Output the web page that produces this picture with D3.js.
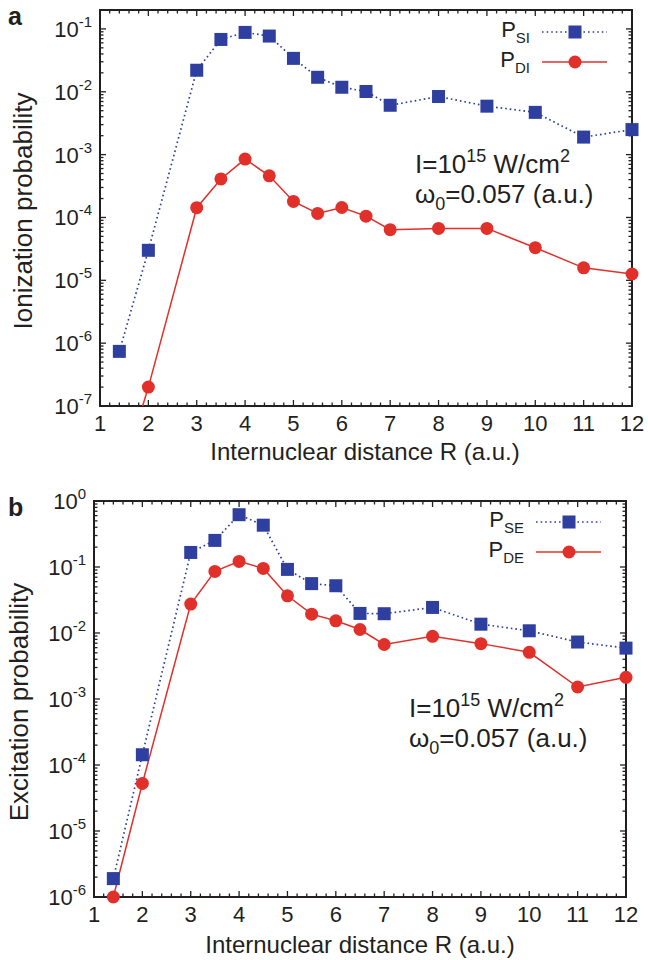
<!DOCTYPE html>
<html>
<head>
<meta charset="utf-8">
<script src="https://cdn.jsdelivr.net/npm/d3@7"></script>
<style>
body { margin: 0; background: #fff; }
text { font-family: "Liberation Sans", Arial, Helvetica, sans-serif; fill: #231f20; }
</style>
</head>
<body>
<svg id="chart" width="648" height="960"></svg>
<script>
// internuclear distance R (a.u.)
var R = [1.4, 2, 3, 3.5, 4, 4.5, 5, 5.5, 6, 6.5, 7, 8, 9, 10, 11, 12];

// panel a - ionization
var P_SI = [7.4e-7, 3.0e-5, 0.022, 0.068, 0.088, 0.077, 0.034, 0.017, 0.0118, 0.0101, 0.0061, 0.0084, 0.0059, 0.0047, 0.0019, 0.0025];
var P_DI = [6e-9, 2.0e-7, 1.43e-4, 4.1e-4, 8.5e-4, 4.6e-4, 1.8e-4, 1.16e-4, 1.44e-4, 1.05e-4, 6.4e-5, 6.7e-5, 6.7e-5, 3.3e-5, 1.58e-5, 1.26e-5];

// panel b - excitation
var P_SE = [1.9e-6, 1.43e-4, 0.166, 0.253, 0.62, 0.43, 0.092, 0.056, 0.052, 0.0198, 0.0196, 0.0244, 0.0136, 0.0108, 0.0073, 0.0059];
var P_DE = [1.0e-6, 5.25e-5, 0.0274, 0.0857, 0.1216, 0.095, 0.0366, 0.0193, 0.0153, 0.0113, 0.0067, 0.0089, 0.0069, 0.0051, 0.00152, 0.00213];

// ticks
var xTicks = [1, 2, 3, 4, 5, 6, 7, 8, 9, 10, 11, 12];
var yExpA = [-7, -6, -5, -4, -3, -2, -1];
var yExpB = [-6, -5, -4, -3, -2, -1, 0];

var blue = "#2e3f9f", red = "#e1302a";

var svg = d3.select("#chart");

function drawPanel(p) {
    var x = d3.scaleLinear().domain([1, 12]).range([p.left, p.right]);
    var y = d3.scaleLog().domain(p.ydom).range([p.bottom, p.top]);
    var g = svg.append("g");

    // clip for lines
    g.append("clipPath").attr("id", "clip" + p.id)
        .append("rect")
        .attr("x", p.left).attr("y", p.top)
        .attr("width", p.right - p.left).attr("height", p.bottom - p.top);

    // x ticks (major + minor), bottom and top, pointing in
    var xMinor = d3.range(10, 120, 2).map(function(d){ return d / 10; }).filter(function(d){ return d % 1 != 0; });
    var tk = g.append("g").attr("stroke", "#231f20").attr("stroke-width", 1.3);
    xTicks.forEach(function(d){
        tk.append("line").attr("x1", x(d)).attr("x2", x(d)).attr("y1", p.bottom).attr("y2", p.bottom - 6);
        tk.append("line").attr("x1", x(d)).attr("x2", x(d)).attr("y1", p.top).attr("y2", p.top + 6);
    });
    xMinor.forEach(function(d){
        tk.append("line").attr("x1", x(d)).attr("x2", x(d)).attr("y1", p.bottom).attr("y2", p.bottom - 3.5);
        tk.append("line").attr("x1", x(d)).attr("x2", x(d)).attr("y1", p.top).attr("y2", p.top + 3.5);
    });

    // y ticks (decades + minor 2..9), left and right
    var yMajor = p.yExp.map(function(e){ return Math.pow(10, e); });
    var yMinor = [];
    p.yExp.forEach(function(e){
        for (var m = 2; m <= 9; m++) {
            var v = m * Math.pow(10, e);
            if (v <= p.ydom[1]) yMinor.push(v);
        }
    });
    yMajor.forEach(function(d){
        tk.append("line").attr("x1", p.left).attr("x2", p.left + 6).attr("y1", y(d)).attr("y2", y(d));
        tk.append("line").attr("x1", p.right).attr("x2", p.right - 6).attr("y1", y(d)).attr("y2", y(d));
    });
    yMinor.forEach(function(d){
        tk.append("line").attr("x1", p.left).attr("x2", p.left + 3.5).attr("y1", y(d)).attr("y2", y(d));
        tk.append("line").attr("x1", p.right).attr("x2", p.right - 3.5).attr("y1", y(d)).attr("y2", y(d));
    });

    // frame
    g.append("rect")
        .attr("x", p.left).attr("y", p.top)
        .attr("width", p.right - p.left).attr("height", p.bottom - p.top)
        .attr("fill", "none").attr("stroke", "#231f20").attr("stroke-width", 2);

    // x tick labels
    g.selectAll(".xl").data(xTicks).enter().append("text")
        .attr("x", function(d){ return x(d); })
        .attr("y", p.bottom + 25)
        .attr("text-anchor", "middle")
        .style("font-size", "22px")
        .text(function(d){ return d; });

    // y tick labels 10^e
    var yl = g.selectAll(".yl").data(p.yExp).enter().append("text")
        .attr("x", p.left - 8)
        .attr("y", function(e){ return y(Math.pow(10, e)) + 8; })
        .attr("text-anchor", "end")
        .style("font-size", "22px");
    yl.append("tspan").text("10");
    yl.append("tspan").attr("dy", -10).style("font-size", "15px").text(function(e){ return e; });

    // axis titles
    g.append("text")
        .attr("x", (p.left + p.right) / 2 + p.xtitleDx)
        .attr("y", p.bottom + p.xtitleDy)
        .attr("text-anchor", "middle")
        .style("font-size", "24px")
        .text("Internuclear distance R (a.u.)");
    g.append("text")
        .attr("transform", "translate(" + p.ytitleX + "," + ((p.top + p.bottom) / 2 + 3) + ") rotate(-90)")
        .attr("text-anchor", "middle")
        .style("font-size", "26px")
        .text(p.ytitle);

    // panel letter
    g.append("text")
        .attr("x", 8).attr("y", p.top + 15)
        .style("font-size", "25px").style("font-weight", "bold")
        .text(p.letter);

    // series
    var line = d3.line()
        .x(function(d){ return x(d[0]); })
        .y(function(d){ return y(d[1]); });

    var s1 = R.map(function(r, i){ return [r, p.s1[i]]; });
    var s2 = R.map(function(r, i){ return [r, p.s2[i]]; });

    g.append("path").datum(s1)
        .attr("clip-path", "url(#clip" + p.id + ")")
        .attr("d", line)
        .attr("fill", "none").attr("stroke", blue)
        .attr("stroke-width", 1.7).attr("stroke-dasharray", "1.6,3");
    g.append("path").datum(s2)
        .attr("clip-path", "url(#clip" + p.id + ")")
        .attr("d", line)
        .attr("fill", "none").attr("stroke", red)
        .attr("stroke-width", 1.5);

    var inDom = function(d){ return d[1] >= p.ydom[0] * 0.999; };

    g.selectAll(".sq").data(s1.filter(inDom)).enter().append("rect")
        .attr("x", function(d){ return x(d[0]) - 6.5; })
        .attr("y", function(d){ return y(d[1]) - 6.5; })
        .attr("width", 13).attr("height", 13)
        .attr("fill", blue);
    g.selectAll(".ci").data(s2.filter(inDom)).enter().append("circle")
        .attr("cx", function(d){ return x(d[0]); })
        .attr("cy", function(d){ return y(d[1]); })
        .attr("r", 6.5)
        .attr("fill", red);

    // legend
    var lg = g.append("g");
    [[p.names[0], blue, "sq"], [p.names[1], red, "ci"]].forEach(function(e, i){
        var ly = p.legY + i * 30;
        var t = lg.append("text")
            .attr("x", p.legX).attr("y", ly + 5)
            .attr("text-anchor", "end")
            .style("font-size", "22px");
        t.append("tspan").text("P");
        t.append("tspan").attr("dy", 6).style("font-size", "15px").text(e[0]);
        lg.append("line")
            .attr("x1", p.legX + 12).attr("x2", p.legX + 77)
            .attr("y1", ly).attr("y2", ly)
            .attr("stroke", e[1])
            .attr("stroke-width", e[2] == "sq" ? 1.7 : 1.5)
            .attr("stroke-dasharray", e[2] == "sq" ? "1.6,3" : null);
        var mx = p.legX + 45;
        if (e[2] == "sq")
            lg.append("rect").attr("x", mx - 6.5).attr("y", ly - 6.5).attr("width", 13).attr("height", 13).attr("fill", e[1]);
        else
            lg.append("circle").attr("cx", mx).attr("cy", ly).attr("r", 6.5).attr("fill", e[1]);
    });

    // annotation
    var a1 = g.append("text").attr("x", p.annX).attr("y", p.annY).style("font-size", "26px");
    a1.append("tspan").text("I=10");
    a1.append("tspan").attr("dy", -11).style("font-size", "18px").text("15");
    a1.append("tspan").attr("dy", 11).text(" W/cm");
    a1.append("tspan").attr("dy", -11).style("font-size", "18px").text("2");
    var a2 = g.append("text").attr("x", p.annX).attr("y", p.annY + 30).style("font-size", "26px");
    a2.append("tspan").text("\u03c9");
    a2.append("tspan").attr("dy", 7).style("font-size", "18px").text("0");
    a2.append("tspan").attr("dy", -7).text("=0.057 (a.u.)");
}

drawPanel({
    id: "a", letter: "a",
    left: 100, right: 632, top: 10, bottom: 406,
    ydom: [1e-7, 0.2], yExp: yExpA,
    s1: P_SI, s2: P_DI, names: ["SI", "DI"],
    ytitle: "Ionization probability", ytitleX: 32,
    xtitleDx: -1, xtitleDy: 54,
    legX: 530, legY: 32,
    annX: 415, annY: 173
});

drawPanel({
    id: "b", letter: "b",
    left: 94, right: 626, top: 501, bottom: 897,
    ydom: [1e-6, 1], yExp: yExpB,
    s1: P_SE, s2: P_DE, names: ["SE", "DE"],
    ytitle: "Excitation probability", ytitleX: 28,
    xtitleDx: 0, xtitleDy: 56,
    legX: 524, legY: 522,
    annX: 409, annY: 717
});
</script>
</body>
</html>
